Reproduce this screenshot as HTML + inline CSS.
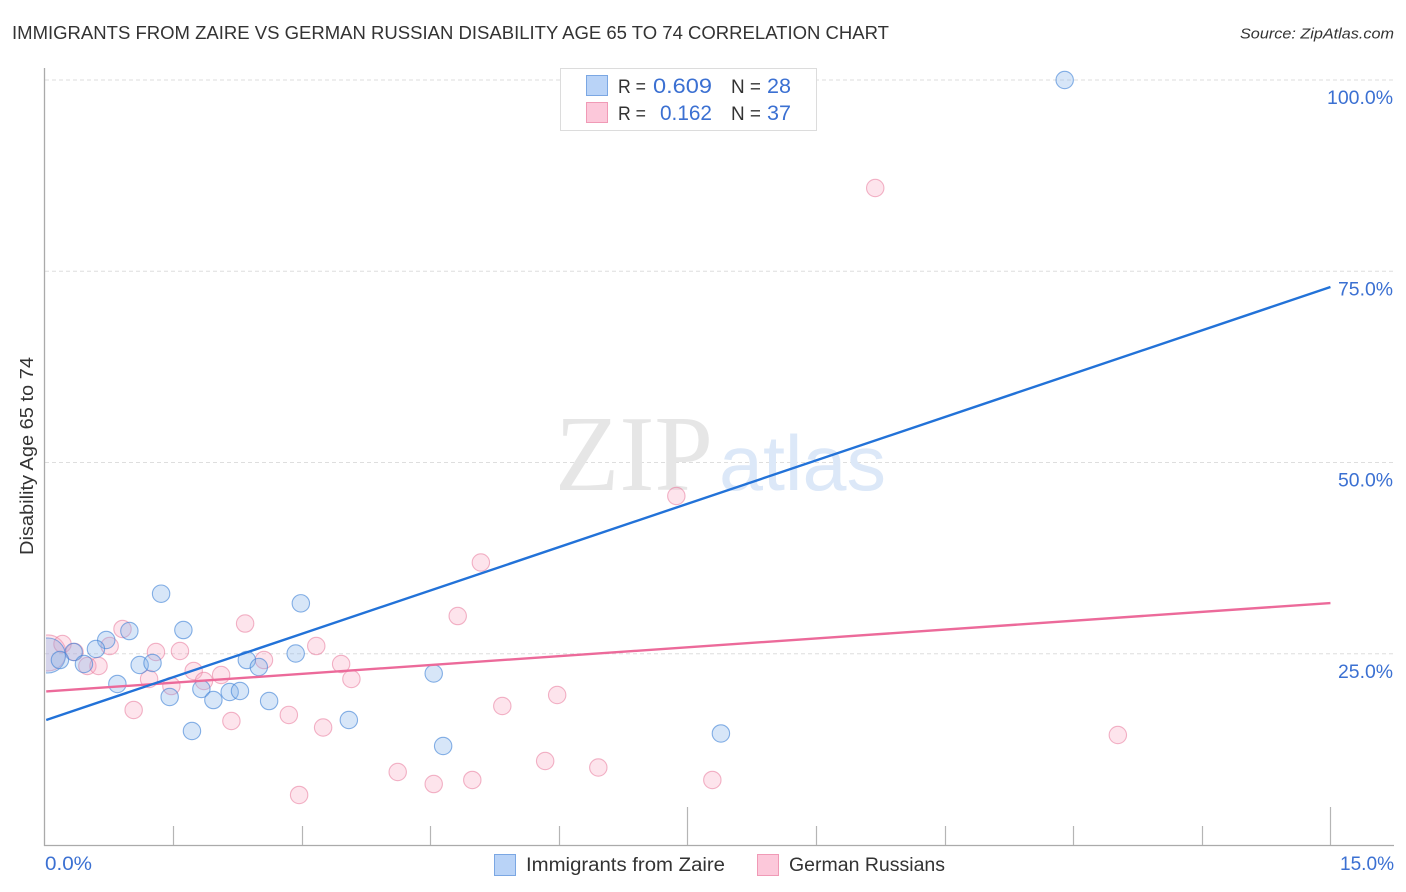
<!DOCTYPE html>
<html lang="en">
<head>
<meta charset="utf-8">
<title>Immigrants from Zaire vs German Russian Disability Age 65 to 74 Correlation Chart</title>
<style>
html,body{margin:0;padding:0;background:#fff;width:1406px;height:892px;overflow:hidden}
svg{display:block;font-family:"Liberation Sans",sans-serif}
</style>
</head>
<body>
<svg id="chart" xmlns="http://www.w3.org/2000/svg" width="1406" height="892" viewBox="0 0 1406 892">
  <defs><clipPath id="plot-clip"><rect x="46" y="60" width="1350" height="785"/></clipPath></defs>
  <text x="12" y="39" font-size="18.5" fill="#333333" textLength="877" lengthAdjust="spacingAndGlyphs">IMMIGRANTS FROM ZAIRE VS GERMAN RUSSIAN DISABILITY AGE 65 TO 74 CORRELATION CHART</text>
  <text x="1394" y="38.500" font-size="15" font-style="italic" fill="#333" text-anchor="end" textLength="154" lengthAdjust="spacingAndGlyphs">Source: ZipAtlas.com</text>
  <g id="grid"></g>
  <g>
    <text x="555" y="490" font-family="'Liberation Serif',serif" font-size="108" fill="#e6e6e6" textLength="158" lengthAdjust="spacingAndGlyphs">ZIP</text>
    <text x="719" y="490" font-size="78" fill="#dce8f8" textLength="167" lengthAdjust="spacingAndGlyphs">atlas</text>
  </g>
  <g id="axes"></g>
  <g id="points" clip-path="url(#plot-clip)"></g>
  <g id="trends"></g>
  <g id="labels"></g>
  <text transform="translate(33,456) rotate(-90)" font-size="18" fill="#333333" text-anchor="middle" textLength="198" lengthAdjust="spacingAndGlyphs">Disability Age 65 to 74</text>

  <g>
    <rect x="560.500" y="68.500" width="256" height="62" fill="#fff" stroke="#dcdcdc" stroke-width="1"/>
    <rect x="586.500" y="75.500" width="21" height="20" fill="#b9d3f7" stroke="#7ba7e3" stroke-width="1"/>
    <rect x="586.500" y="102.500" width="21" height="20" fill="#fcc8da" stroke="#f09ab6" stroke-width="1"/>
    <g font-size="20">
      <text x="618" y="93" font-size="19" fill="#333333" textLength="28" lengthAdjust="spacingAndGlyphs">R =</text>
      <text x="653" y="93" fill="#3b70d2" font-size="21" textLength="59" lengthAdjust="spacingAndGlyphs">0.609</text>
      <text x="731" y="93" font-size="19" fill="#333333" textLength="30" lengthAdjust="spacingAndGlyphs">N =</text>
      <text x="767" y="93" fill="#3b70d2" font-size="21" textLength="24" lengthAdjust="spacingAndGlyphs">28</text>
      <text x="618" y="120" font-size="19" fill="#333333" textLength="28" lengthAdjust="spacingAndGlyphs">R =</text>
      <text x="660" y="120" fill="#3b70d2" font-size="21" textLength="52" lengthAdjust="spacingAndGlyphs">0.162</text>
      <text x="731" y="120" font-size="19" fill="#333333" textLength="30" lengthAdjust="spacingAndGlyphs">N =</text>
      <text x="767" y="120" fill="#3b70d2" font-size="21" textLength="24" lengthAdjust="spacingAndGlyphs">37</text>
    </g>
  </g>

  <g>
    <rect x="494.500" y="854.500" width="21" height="21" fill="#b9d3f7" stroke="#7ba7e3" stroke-width="1"/>
    <text x="526" y="871" font-size="19" fill="#333333" textLength="199" lengthAdjust="spacingAndGlyphs">Immigrants from Zaire</text>
    <rect x="757.500" y="854.500" width="21" height="21" fill="#fcc8da" stroke="#f09ab6" stroke-width="1"/>
    <text x="789" y="871" font-size="19" fill="#333333" textLength="156" lengthAdjust="spacingAndGlyphs">German Russians</text>
  </g>
</svg>
<script>
const xTickValues = [0, 1.5, 3, 4.5, 6, 7.5, 9, 10.5, 12, 13.5, 15];
const xTickLabels = ["0.0%", "15.0%"];
const yTickValues = [25, 50, 75, 100];
const yTickLabels = ["25.0%", "50.0%", "75.0%", "100.0%"];

const blueX = [11.90,1.36,2.99,0.99,1.62,0.72,0.60,0.34,0.18,0.46,1.11,1.26,0.85,1.46,1.83,1.97,2.16,2.28,2.36,2.50,2.62,2.93,1.72,3.55,4.54,4.65,7.89];
const blueY = [100,32.85,31.59,27.97,28.10,26.80,25.62,25.23,24.18,23.66,23.53,23.79,21.05,19.35,20.39,18.95,20.00,20.13,24.18,23.27,18.82,25.03,14.90,16.34,22.42,12.94,14.58];
const blueLargeX = [0.04];
const blueLargeY = [24.77];

const pinkX = [9.69,7.37,5.09,4.82,2.34,0.91,0.21,0.35,0.76,1.30,1.58,0.50,0.63,1.22,1.48,1.74,1.86,2.06,2.56,3.17,3.46,3.58,1.04,2.18,2.85,3.25,2.97,4.12,4.54,4.99,5.34,5.98,5.84,6.46,7.79,12.52];
const pinkY = [85.88,45.62,36.93,29.93,28.95,28.24,26.27,25.23,26.01,25.23,25.36,23.40,23.40,21.70,20.78,22.75,21.44,22.22,24.18,26.01,23.66,21.70,17.65,16.21,17.00,15.36,6.54,9.54,7.97,8.50,18.17,19.61,10.98,10.13,8.50,14.38];
const pinkLargeX = [0.04];
const pinkLargeY = [25.10];

const blueTrendX = [0.02, 15];
const blueTrendY = [16.34, 72.94];
const pinkTrendX = [0.02, 15];
const pinkTrendY = [20.07, 31.63];

const xScale = v => 44.5 + v * 85.73;
const yScale = v => 845 - v * 7.65;
const NS = 'http://www.w3.org/2000/svg';
const make = (tag, parent, attrs) => {
  const el = document.createElementNS(NS, tag);
  for (const k in attrs) el.setAttribute(k, attrs[k]);
  parent.appendChild(el);
  return el;
};
const gridG = document.getElementById('grid');
const axesG = document.getElementById('axes');
const pointsG = document.getElementById('points');
const trendsG = document.getElementById('trends');
const labelsG = document.getElementById('labels');

yTickValues.forEach((v, i) => {
  const line = make('line', gridG, {x1: 45, x2: 1394, y1: yScale(v), y2: yScale(v), stroke: '#dedede', 'stroke-width': 1, 'stroke-dasharray': '4 3'});
  
  
  const t = make('text', labelsG, {x: 1393, y: yScale(v) + 24, 'font-size': 19, fill: '#3b70d2', 'text-anchor': 'end', textLength: yTickLabels[i].length * 11, lengthAdjust: 'spacingAndGlyphs'});
  t.textContent = yTickLabels[i];
  
  
});

const yAxis = make('line', axesG, {x1: 44.5, x2: 44.5, y1: 68, y2: 846, stroke: '#aaaaaa', 'stroke-width': 1.3});


const xAxis = make('line', axesG, {x1: 44, x2: 1394, y1: 845.5, y2: 845.5, stroke: '#aaaaaa', 'stroke-width': 1.3});



xTickValues.slice(1).forEach((v, i) => {
  const tall = (i + 1) % 5 === 0;
  const px = Math.round(xScale(v)) + 0.5;
  const tick = make('line', axesG, {x1: px, x2: px, y1: tall ? 807 : 826, y2: 845, stroke: '#b5b5b5', 'stroke-width': 1.2});
  
  
});

const xLabel0 = make('text', labelsG, {x: 45, y: 870, 'font-size': 19, fill: '#3b70d2', textLength: 47, lengthAdjust: 'spacingAndGlyphs'});
xLabel0.textContent = xTickLabels[0];


const xLabel1 = make('text', labelsG, {x: 1394, y: 870, 'font-size': 19, fill: '#3b70d2', 'text-anchor': 'end', textLength: 54, lengthAdjust: 'spacingAndGlyphs'});
xLabel1.textContent = xTickLabels[1];



const pinkStyle = {fill: 'rgba(247,165,192,0.30)', stroke: 'rgba(232,120,155,0.55)', 'stroke-width': 1.1};
const blueStyle = {fill: 'rgba(135,178,235,0.33)', stroke: 'rgba(65,130,215,0.62)', 'stroke-width': 1.1};

pinkLargeX.forEach((v, i) => {
  const c = make('circle', pointsG, Object.assign({cx: xScale(v), cy: yScale(pinkLargeY[i]), r: 18}, pinkStyle));
  
  
});
pinkX.forEach((v, i) => {
  const c = make('circle', pointsG, Object.assign({cx: xScale(v), cy: yScale(pinkY[i]), r: 8.7}, pinkStyle));
  
  
});
blueLargeX.forEach((v, i) => {
  const c = make('circle', pointsG, Object.assign({cx: xScale(v), cy: yScale(blueLargeY[i]), r: 17.5}, blueStyle));
  
  
});
blueX.forEach((v, i) => {
  const c = make('circle', pointsG, Object.assign({cx: xScale(v), cy: yScale(blueY[i]), r: 8.7}, blueStyle));
  
  
});

const pinkLine = make('line', trendsG, {x1: xScale(pinkTrendX[0]), y1: yScale(pinkTrendY[0]), x2: xScale(pinkTrendX[1]), y2: yScale(pinkTrendY[1]), stroke: '#ec6a9a', 'stroke-width': 2.4});


const blueLine = make('line', trendsG, {x1: xScale(blueTrendX[0]), y1: yScale(blueTrendY[0]), x2: xScale(blueTrendX[1]), y2: yScale(blueTrendY[1]), stroke: '#2272d8', 'stroke-width': 2.4});


</script>
</body>
</html>
